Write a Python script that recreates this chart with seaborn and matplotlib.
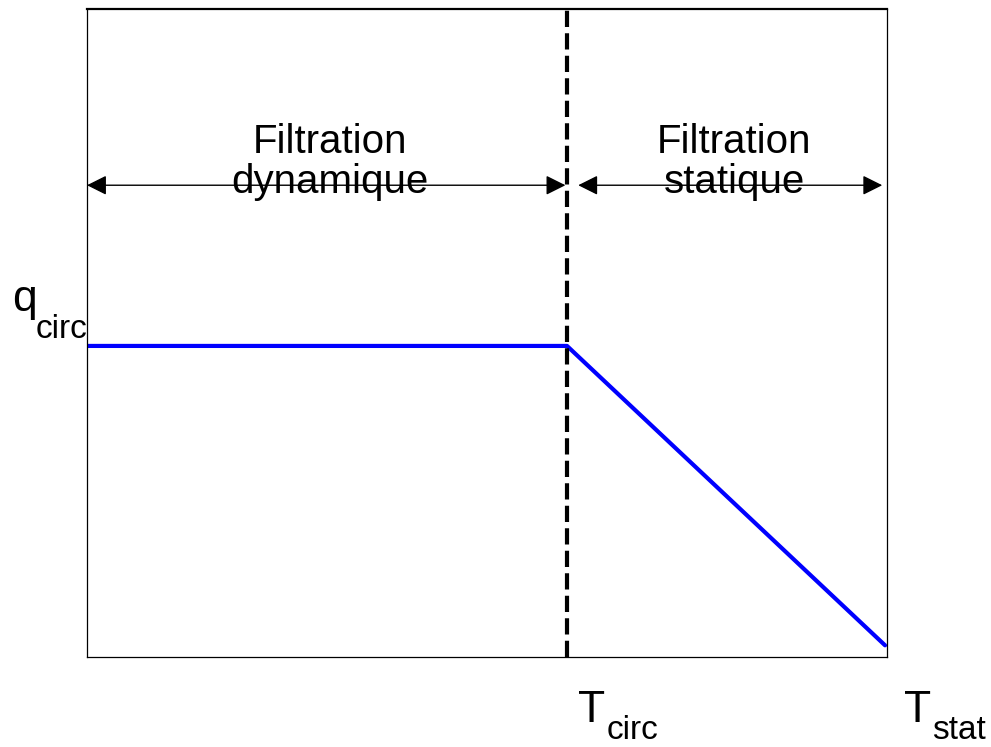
import numpy as np
import pandas as pd
import matplotlib
matplotlib.use('Agg')
import matplotlib.pyplot as plt
import seaborn as sns

# schematic values (normalised axes)
t_pts = [0.0, 0.6, 0.9975]
q_pts = [0.48, 0.48, 0.018]
t_circ = 0.6
arrow_y = 0.728
zone_spans = [(0.0, 0.598), (0.614, 0.994)]
zone_labels = [('Filtration', 'dynamique'), ('Filtration', 'statique')]

sns.set_style('white')
plt.rcParams['font.family'] = ['Liberation Sans', 'DejaVu Sans']
plt.rcParams['text.color'] = 'black'

fig = plt.figure(figsize=(9.91, 7.47), dpi=100)
ax = fig.add_axes([0.0878, 0.1205, 0.8073, 0.8675])

df = pd.DataFrame({'t': t_pts, 'q': q_pts})
sns.lineplot(data=df, x='t', y='q', ax=ax, color='#0000ff', linewidth=3, sort=False)
ax.axvline(t_circ, color='black', linewidth=3, dashes=(3.9, 1.5))

ax.set_xlim(0, 1)
ax.set_ylim(0, 1)
ax.set_xticks([])
ax.set_yticks([])
ax.set_xlabel('')
ax.set_ylabel('')
for s in ax.spines.values():
    s.set_color('black')
    s.set_linewidth(0.9)
ax.spines['top'].set_linewidth(1.6)

# double arrows for the two zones
for (x0, x1), (l1, l2) in zip(zone_spans, zone_labels):
    ax.annotate('', xy=(x0, arrow_y), xytext=(x1, arrow_y),
                arrowprops=dict(arrowstyle='<|-|>', color='black', lw=1,
                                mutation_scale=30, shrinkA=0, shrinkB=0))
    xc = (x0 + x1) / 2 + 0.005
    ax.text(xc, (657 - 153) / 648, l1, ha='center', va='baseline', fontsize=29,
            color='black', transform=ax.transAxes)
    ax.text(xc, (657 - 193) / 648, l2, ha='center', va='baseline', fontsize=29,
            color='black', transform=ax.transAxes)

# axis annotations
big, small = 32, 24
ax.text(-0.094, 0.534, 'q', fontsize=big, va='baseline', transform=ax.transAxes)
ax.text(-0.064, 0.492, 'circ', fontsize=small, va='baseline', transform=ax.transAxes)
ax.text(0.614, -0.100, 'T', fontsize=big, va='baseline', transform=ax.transAxes)
ax.text(0.649, -0.127, 'circ', fontsize=small, va='baseline', transform=ax.transAxes)
ax.text(1.021, -0.100, 'T', fontsize=big, va='baseline', transform=ax.transAxes)
ax.text(1.056, -0.127, 'stat', fontsize=small, va='baseline', transform=ax.transAxes)

fig.savefig('out.png', dpi=100)
